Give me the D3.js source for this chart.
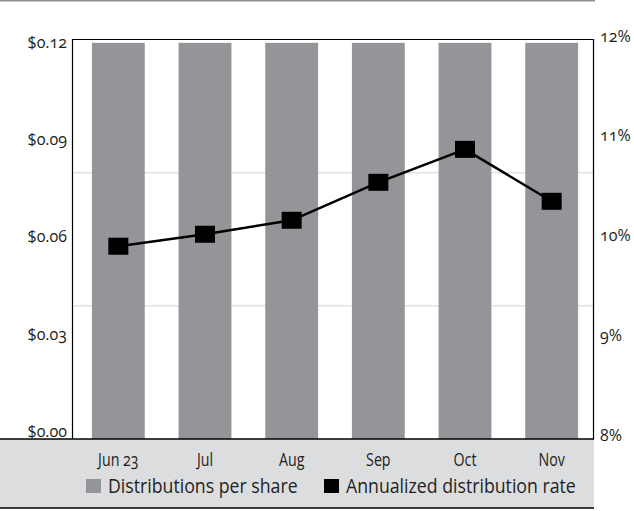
<!DOCTYPE html>
<html>
<head>
<meta charset="utf-8">
<script src="https://cdn.jsdelivr.net/npm/d3@7"></script>
<style>
  html, body { margin: 0; padding: 0; background: #fff; }
  svg { display: block; }
  text { font-family: "Open Sans", sans-serif; fill: #231f20; font-feature-settings: "onum" 1; }
</style>
</head>
<body>
<svg id="chart" width="634" height="511"></svg>
<script>
// Monthly distributions per share and annualized distribution rate
const months = ["Jun 23", "Jul", "Aug", "Sep", "Oct", "Nov"];
const distributions = [0.119, 0.119, 0.119, 0.119, 0.119, 0.119];
const annualizedRate = [9.93, 10.05, 10.19, 10.57, 10.90, 10.38];
const dollarTicks = [0, 0.03, 0.06, 0.09, 0.12];
const rateTicks = [8, 9, 10, 11, 12];
const gridValues = [0.04, 0.08];
const legendItems = ["Distributions per share", "Annualized distribution rate"];

const svg = d3.select("#chart");
const frame = { left: 72.5, right: 593.5, top: 39.5, bottom: 439 };
const BAR = "#939598";
const squeezeMonths = 0.79;
const squeezeLegend = 0.864;

const x = d3.scaleBand().domain(months).range([75, 595]).paddingInner(0.39).paddingOuter(0.195);
const y = d3.scaleLinear().domain([0, 0.12]).range([frame.bottom, frame.top]);
const yRate = d3.scaleLinear().domain([8, 12]).range([frame.bottom, frame.top]);
// dollar labels sit on a slightly tighter ladder than the plot edges
const yDollarLabel = d3.scaleLinear().domain([0, 0.12]).range([431, 42.6]);

// rule across the top
svg.append("line")
  .attr("x1", 0).attr("x2", 595).attr("y1", 0.75).attr("y2", 0.75)
  .attr("stroke", "#8f8f8f").attr("stroke-width", 1.5);

// faint gridlines behind the bars
svg.append("g").selectAll("line").data(gridValues).join("line")
  .attr("x1", frame.left).attr("x2", frame.right)
  .attr("y1", d => y(d)).attr("y2", d => y(d))
  .attr("stroke", "#e2e2e2").attr("stroke-width", 1.5);

// bars
svg.append("g").selectAll("rect").data(distributions).join("rect")
  .attr("x", (d, i) => x(months[i]))
  .attr("width", x.bandwidth())
  .attr("y", d => y(d))
  .attr("height", d => y(0) - y(d))
  .attr("fill", BAR);

// plot frame (left, top, right)
svg.append("path")
  .attr("d", `M${frame.left},${frame.bottom}V${frame.top}H${frame.right}V${frame.bottom}`)
  .attr("fill", "none").attr("stroke", "#000").attr("stroke-width", 1.2);

// shaded band holding the month labels and legend
const bandBottom = 508;
svg.append("rect")
  .attr("x", 0).attr("y", frame.bottom)
  .attr("width", frame.right + 0.5).attr("height", bandBottom - frame.bottom)
  .attr("fill", "#dcdddf");
svg.append("line")
  .attr("x1", 0).attr("x2", frame.right + 0.5).attr("y1", frame.bottom).attr("y2", frame.bottom)
  .attr("stroke", "#000").attr("stroke-width", 1.5);
svg.append("line")
  .attr("x1", 0).attr("x2", frame.right + 0.5).attr("y1", bandBottom).attr("y2", bandBottom)
  .attr("stroke", "#000").attr("stroke-width", 1.5);

// annualized rate line with square markers
const cx = i => x(months[i]) + x.bandwidth() / 2;
const line = d3.line().x((d, i) => cx(i)).y(d => yRate(d));
svg.append("path")
  .datum(annualizedRate)
  .attr("d", line)
  .attr("fill", "none").attr("stroke", "#000").attr("stroke-width", 2.5);
const mw = 20, mh = 17;
svg.append("g").selectAll("rect").data(annualizedRate).join("rect")
  .attr("x", (d, i) => cx(i) - mw / 2)
  .attr("y", d => yRate(d) - mh / 2)
  .attr("width", mw).attr("height", mh)
  .attr("fill", "#000");

// left axis: dollars
const leftAxis = svg.append("g")
  .attr("transform", `translate(${frame.left},0)`)
  .call(d3.axisLeft(yDollarLabel).tickValues(dollarTicks)
    .tickFormat(d => "$" + d.toFixed(2)).tickSize(0).tickPadding(5.5));
leftAxis.select(".domain").remove();
leftAxis.selectAll("text").attr("font-size", 16);

// right axis: percent
const rightAxis = svg.append("g")
  .attr("transform", `translate(${frame.right},0)`)
  .call(d3.axisRight(yRate).tickValues(rateTicks)
    .tickFormat(d => d + "%").tickSize(0).tickPadding(6.5));
rightAxis.select(".domain").remove();
rightAxis.selectAll("text").attr("font-size", 16).attr("dy", "0.1em");
svg.selectAll(".tick text").attr("fill", "#231f20");
svg.selectAll("g").attr("font-family", null);

// month labels, set condensed
svg.append("g").selectAll("text").data(months).join("text")
  .attr("transform", d => `translate(${x(d) + x.bandwidth() / 2},465.5) scale(${squeezeMonths},1)`)
  .attr("text-anchor", "middle")
  .attr("font-size", 18)
  .text(d => d);

// legend
const legendPos = [86, 324];
const legendFill = [BAR, "#000"];
const legend = svg.append("g").selectAll("g").data(legendItems).join("g")
  .attr("transform", (d, i) => `translate(${legendPos[i]},0)`);
legend.append("rect")
  .attr("x", 0).attr("y", 479).attr("width", 15).attr("height", 14)
  .attr("fill", (d, i) => legendFill[i]);
legend.append("text")
  .attr("transform", `translate(22,493) scale(${squeezeLegend},1)`)
  .attr("font-size", 20.5)
  .text(d => d);
</script>
</body>
</html>
